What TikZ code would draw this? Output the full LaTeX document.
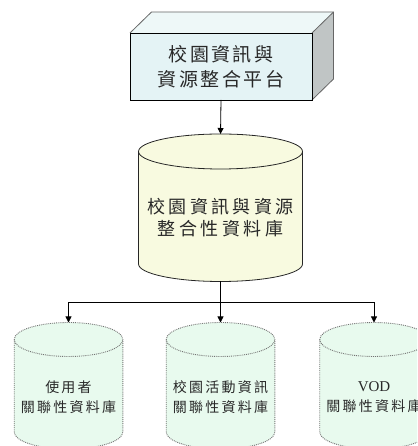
\documentclass[tikz,border=0pt]{standalone}
\usepackage{fontspec}
\setmainfont{Liberation Serif}
\newfontfamily\cjk{Noto Sans CJK TC}
\usetikzlibrary{arrows.meta}

\definecolor{frontfill}{RGB}{228,243,245}
\definecolor{topfill}{RGB}{238,248,248}
\definecolor{sidefill}{RGB}{192,197,197}
\definecolor{mainfill}{RGB}{248,250,224}
\definecolor{subfill}{RGB}{232,250,238}
\definecolor{inkgray}{RGB}{40,40,40}

\tikzset{
  shell/.style={inner sep=0pt, outer sep=0pt},
  platform/.style={shell, draw=black, line width=0.8pt, fill=frontfill},
  maincyl/.style={draw=black!85, line width=0.8pt, fill=mainfill},
  subcyl/.style={draw=black!55, line width=0.9pt, densely dotted, fill=subfill},
  label/.style={inner sep=0pt, align=center, text=inkgray},
  bigtext/.style={label, font={\cjk\fontsize{19}{25}\selectfont\addfontfeatures{LetterSpace=13}}},
  midtext/.style={label, font={\cjk\fontsize{18}{21.6}\selectfont\addfontfeatures{LetterSpace=19}}},
  smalltext/.style={label, font={\cjk\fontsize{14}{20}\selectfont\addfontfeatures{LetterSpace=16}}},
  link/.style={draw=black, line width=0.8pt},
  arrowlink/.style={link, -{Triangle[length=6pt,width=6pt]}}
}

% cylinder drawn over the box of a named node: #1 node, #2 x radius, #3 y radius, #4 style
\newcommand{\cylinderon}[4]{%
  \filldraw[#4] ([yshift=-#3]#1.north west)
      -- ([yshift=#3]#1.south west)
      arc[start angle=180, end angle=360, x radius=#2, y radius=#3]
      -- ([yshift=-#3]#1.north east)
      arc[start angle=0, end angle=180, x radius=#2, y radius=#3]
      -- cycle;
  \draw[#4, fill=none] ([yshift=-#3]#1.north west)
      arc[start angle=180, end angle=360, x radius=#2, y radius=#3];
}

\begin{document}
\begin{tikzpicture}[x=1pt, y=1pt]
\useasboundingbox (0,0) rectangle (417,446);
\clip (0,0) rectangle (417,446);

% integration platform: a box with its top and right faces
\node[platform, minimum width=182pt, minimum height=67pt] (platform) at (221,379.5) {};
\coordinate (backnw) at ([shift={(21.5pt,21pt)}]platform.north west);
\coordinate (backne) at ([shift={(21.5pt,21pt)}]platform.north east);
\coordinate (backse) at ([shift={(21.5pt,21pt)}]platform.south east);
\fill[topfill] (platform.north west) -- (backnw) -- (backne) -- (platform.north east) -- cycle;
\fill[sidefill] (platform.north east) -- (backne) -- (backse) -- (platform.south east) -- cycle;
\draw[black!60, line width=0.8pt, line join=round]
  (platform.north west) -- (backnw) -- (backne) -- (backse) -- (platform.south east);
\draw[black!60, line width=0.8pt] (platform.north east) -- (backne);
\draw[black, line width=0.8pt] (platform.south west) rectangle (platform.north east);
\node[bigtext] (platformtext) at (platform.center) {校園資訊與\\資源整合平台};

% integrated campus database
\node[shell, minimum width=164pt, minimum height=147.5pt] (maindb) at (220.5,238.25) {};
\cylinderon{maindb}{82pt}{17.5pt}{maincyl}
\node[midtext] (maindbtext) at (220.5,228.5) {校園資訊與資源\\整合性資料庫};

% relational databases
\node[shell, minimum width=108.6pt, minimum height=126.5pt] (userdb) at (68.5,60.25) {};
\node[shell, minimum width=108.6pt, minimum height=126.5pt] (eventdb) at (220.5,60.25) {};
\node[shell, minimum width=108.6pt, minimum height=126.5pt] (voddb) at (374,60.25) {};
\cylinderon{userdb}{54.3pt}{17pt}{subcyl}
\cylinderon{eventdb}{54.3pt}{17pt}{subcyl}
\cylinderon{voddb}{54.3pt}{17pt}{subcyl}
\node[smalltext] (userdbtext) at (68.5,49) {使用者\\關聯性資料庫};
\node[smalltext] (eventdbtext) at (220.5,49) {校園活動資訊\\關聯性資料庫};
\node[smalltext] (voddbtext) at (374,49) {{\rmfamily\fontsize{15}{20}\selectfont VOD}\\關聯性資料庫};

% connectors
\draw[arrowlink] (platform.south) -- (maindb.north);
\coordinate (split) at ([yshift=-21pt]maindb.south);
\draw[link] (maindb.south) -- (split);
\draw[arrowlink] (split) -| (userdb.north);
\draw[arrowlink] (split) -- (eventdb.north);
\draw[arrowlink] (split) -| (voddb.north);
\end{tikzpicture}
\end{document}
